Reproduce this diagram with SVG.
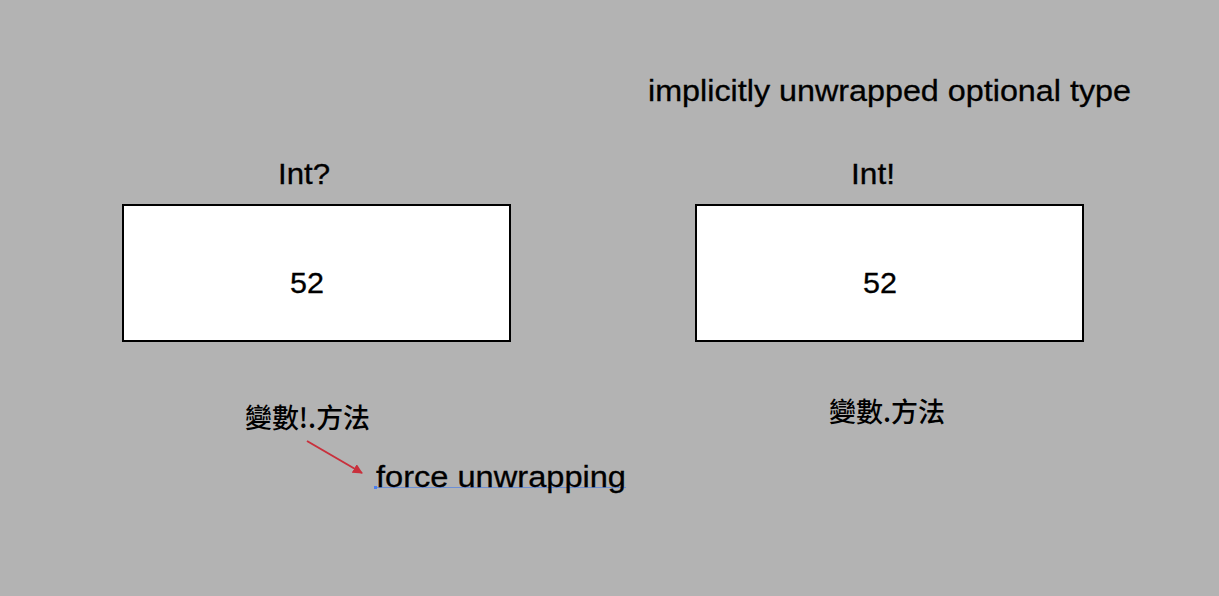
<svg xmlns="http://www.w3.org/2000/svg" width="1219" height="596" viewBox="0 0 1219 596">
<style>
.t{font-family:"Liberation Sans",Arial,sans-serif;fill:#000;stroke:#000;stroke-width:0.3}
.c{font-family:"Noto Sans CJK TC","Liberation Sans",sans-serif;fill:#000;font-weight:500}
.box{fill:#fff;stroke:#000;stroke-width:2}
</style>
<defs>
<marker id="ah" markerWidth="10" markerHeight="10" refX="9" refY="5" orient="auto" markerUnits="userSpaceOnUse" viewBox="0 0 10 10">
<path d="M0,0 L10,5 L0,10 z" fill="#c9303c"/>
</marker>
</defs>
<rect width="1219" height="596" fill="#b3b3b3"/>
<g id="title"><text class="t" x="648" y="101" font-size="30" textLength="483" lengthAdjust="spacingAndGlyphs">implicitly unwrapped optional type</text></g>
<g id="left-node">
<text class="t" x="304" y="184" font-size="29" text-anchor="middle" textLength="52" lengthAdjust="spacingAndGlyphs">Int?</text>
<rect class="box" x="123" y="205" width="387" height="136"/>
<text class="t" x="307" y="293" font-size="29" text-anchor="middle" textLength="34" lengthAdjust="spacingAndGlyphs">52</text>
</g>
<g id="right-node">
<text class="t" x="873" y="184" font-size="29" text-anchor="middle" textLength="44" lengthAdjust="spacingAndGlyphs">Int!</text>
<rect class="box" x="696" y="205" width="387" height="136"/>
<text class="t" x="880" y="293" font-size="29" text-anchor="middle" textLength="34" lengthAdjust="spacingAndGlyphs">52</text>
</g>
<g id="left-method"><text class="c" x="245" y="428" font-size="27" textLength="125" lengthAdjust="spacingAndGlyphs">變數!.方法</text></g>
<g id="right-method"><text class="c" x="829" y="422" font-size="27" textLength="116" lengthAdjust="spacingAndGlyphs">變數.方法</text></g>
<g id="force-label">
<line x1="376" y1="487.5" x2="626" y2="487.5" stroke="#6c8fd6" stroke-width="1"/>
<rect x="374" y="486" width="3" height="3" fill="#4a7df0"/>
<text class="t" x="376" y="487" font-size="30" textLength="250" lengthAdjust="spacingAndGlyphs">force unwrapping</text>
</g>
<g id="connectors">
<line x1="307" y1="441" x2="362" y2="473" stroke="#c9303c" stroke-width="2" marker-end="url(#ah)"/>
</g>
</svg>
